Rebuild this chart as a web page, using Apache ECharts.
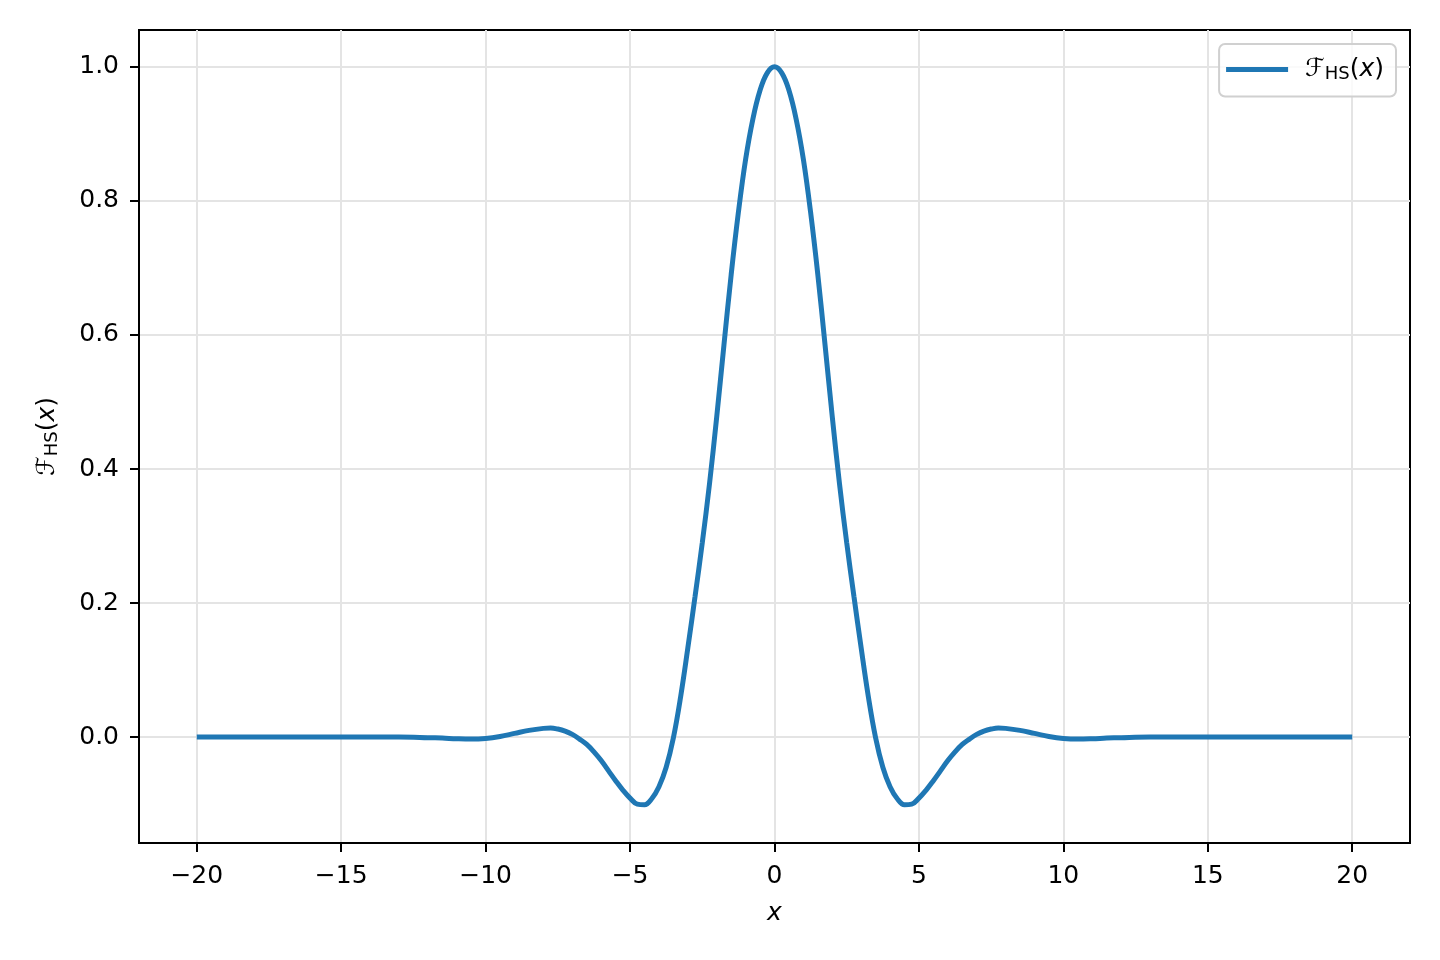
<!DOCTYPE html>
<html>
<head>
<meta charset="utf-8">
<script src="https://cdn.jsdelivr.net/npm/echarts@6/dist/echarts.min.js"></script>
<style>
    html,body{margin:0;padding:0;background:#fff;}
    #chart{width:1440px;height:960px;}
</style>
</head>
<body>
<div id="chart"></div>
<script>
// values
const xValues = [
    -20, -19, -18, -17, -16, -15, -14, -13, -12, -11.5, -11, -10.5, -10, -9.5, -9, -8.5,
    -8, -7.75, -7.5, -7.25, -7, -6.75, -6.5, -6.25, -6, -5.75, -5.5, -5.25, -5, -4.75, -4.5, -4.25,
    -4, -3.75, -3.5, -3.25, -3, -2.75, -2.5, -2.25, -2, -1.75, -1.5, -1.25, -1, -0.75, -0.5, -0.25,
    0,
    0.25, 0.5, 0.75, 1, 1.25, 1.5, 1.75, 2, 2.25, 2.5, 2.75, 3, 3.25, 3.5, 3.75, 4,
    4.25, 4.5, 4.75, 5, 5.25, 5.5, 5.75, 6, 6.25, 6.5, 6.75, 7, 7.25, 7.5, 7.75, 8,
    8.5, 9, 9.5, 10, 10.5, 11, 11.5, 12, 13, 14, 15, 16, 17, 18, 19, 20
];
const fhsValues = [
    0, 0, 0, 0, 0, 0.0001, 0.0002, 0.0001, -0.0008, -0.0015, -0.0025, -0.003, -0.002, 0.001, 0.0055, 0.010,
    0.013, 0.0135, 0.012, 0.009, 0.004, -0.003, -0.011, -0.022, -0.035, -0.050, -0.065, -0.079, -0.091, -0.100, -0.101, -0.092,
    -0.074, -0.045, -0.001, 0.060, 0.133, 0.210, 0.290, 0.378, 0.478, 0.585, 0.690, 0.783, 0.862, 0.922, 0.965, 0.991,
    1.000,
    0.991, 0.965, 0.922, 0.862, 0.783, 0.690, 0.585, 0.478, 0.378, 0.290, 0.210, 0.133, 0.060, -0.001, -0.045, -0.074,
    -0.092, -0.101, -0.100, -0.091, -0.079, -0.065, -0.050, -0.035, -0.022, -0.011, -0.003, 0.004, 0.009, 0.012, 0.0135, 0.013,
    0.010, 0.0055, 0.001, -0.002, -0.003, -0.0025, -0.0015, -0.0008, 0.0001, 0.0002, 0.0001, 0, 0, 0, 0, 0
];
const xTicks = [-20, -15, -10, -5, 0, 5, 10, 15, 20];
const yTicks = [0, 0.2, 0.4, 0.6, 0.8, 1.0];

const font = "DejaVu Sans";
const minus = (s) => String(s).replace("-", "\u2212");
const fhsRich = {
    f: {fontFamily: font, fontSize: 25, color: "#000", fontStyle: "italic"},
    sub: {fontFamily: font, fontSize: 18, color: "#000", verticalAlign: "bottom", padding: [10, 0, 0, 0]},
    n: {fontFamily: font, fontSize: 25, color: "#000"},
    i: {fontFamily: font, fontSize: 25, color: "#000", fontStyle: "italic"}
};
const fhsLabel = "{f|\u2131}{sub|HS}{n|(}{i|x}{n|)}";

let myChart = echarts.init(document.getElementById("chart"));
myChart.setOption({
    animation: false,
    grid: {
        left: 139,
        right: 30,
        top: 30,
        bottom: 117,
        show: true,
        borderColor: "#000",
        borderWidth: 2
    },
    legend: {
        right: 44,
        top: 44,
        orient: "vertical",
        icon: "rect",
        itemWidth: 62,
        itemHeight: 5,
        padding: [13, 12, 13, 7],
        borderColor: "#d0d0d0",
        borderWidth: 2,
        borderRadius: 6,
        backgroundColor: "rgba(255,255,255,0.8)",
        formatter: () => "{gap|}" + fhsLabel,
        textStyle: {rich: Object.assign({gap: {width: 12}}, fhsRich), fontFamily: font, fontSize: 25}
    },
    xAxis: {
        type: "value",
        min: -22,
        max: 22,
        name: "x",
        nameLocation: "middle",
        nameGap: 58,
        nameTextStyle: {fontFamily: font, fontSize: 25, fontStyle: "italic", color: "#000"},
        axisLine: {onZero: false, lineStyle: {color: "#000", width: 2}},
        axisTick: {show: true, length: 9, customValues: xTicks, lineStyle: {color: "#000", width: 2}},
        axisLabel: {
            customValues: xTicks,
            margin: 21,
            fontFamily: font,
            fontSize: 25,
            color: "#000",
            formatter: (v) => minus(v)
        },
        splitLine: {show: true, lineStyle: {color: "#e4e4e4", width: 2}}
    },
    yAxis: {
        type: "value",
        min: -0.158,
        max: 1.055,
        name: fhsLabel,
        nameLocation: "middle",
        nameGap: 78,
        nameRotate: 90,
        nameTextStyle: {rich: fhsRich},
        axisLine: {onZero: false, lineStyle: {color: "#000", width: 2}},
        axisTick: {show: true, length: 9, customValues: yTicks, lineStyle: {color: "#000", width: 2}},
        axisLabel: {
            customValues: yTicks,
            margin: 20,
            fontFamily: font,
            fontSize: 25,
            color: "#000",
            formatter: (v) => minus(v.toFixed(1))
        },
        splitLine: {show: true, lineStyle: {color: "#e4e4e4", width: 2}}
    },
    series: [
        {
            type: "line",
            name: "FHS",
            data: xValues.map((x, i) => [x, fhsValues[i]]),
            showSymbol: false,
            smooth: 0.4,
            color: "#1f77b4",
            lineStyle: {width: 5, color: "#1f77b4"}
        }
    ]
});
</script>
</body>
</html>
